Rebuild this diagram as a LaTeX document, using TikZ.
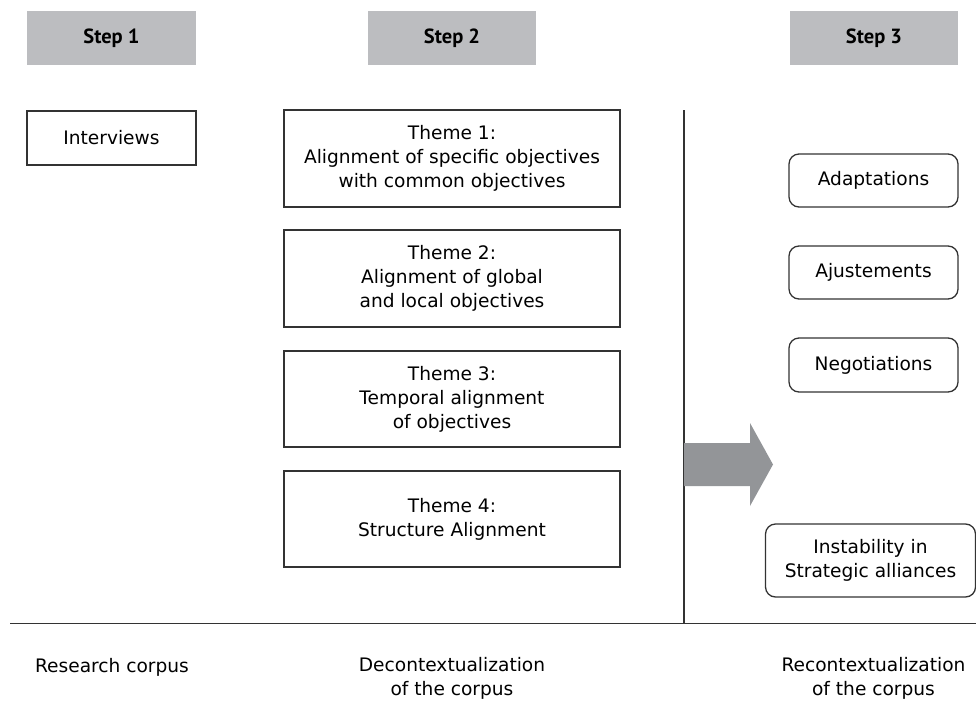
\documentclass[tikz,border=0pt]{standalone}
\usepackage{fontspec}
\setmainfont{DejaVu Sans}
\newfontfamily\headfont{PT Sans}
\definecolor{headgray}{HTML}{BCBDC0}
\definecolor{arrowgray}{HTML}{939598}
\definecolor{linegray}{HTML}{333333}
\begin{document}
\begin{tikzpicture}[x=1pt,y=-1pt,
  every node/.style={font=\fontsize{18.6}{24}\selectfont, align=center, inner sep=0pt},
  stephead/.style={fill=headgray, minimum width=169pt, minimum height=54pt, font=\headfont\fontsize{20.5}{24}\selectfont\bfseries},
  box/.style={draw=linegray, line width=1.3pt, minimum height=97pt, minimum width=336pt},
  rbox/.style={draw=linegray, line width=1.3pt, rounded corners=10pt, minimum width=169pt, minimum height=53pt},
  sep/.style={draw=linegray, line width=1.3pt},
  bigarrow/.style={fill=arrowgray, draw=none}
]
\useasboundingbox (0,0) rectangle (976,701);
% step headers
\node[stephead] (s1) at (111.5,38) {Step 1};
\node[stephead, minimum width=168pt] (s2) at (452,38) {Step 2};
\node[stephead, minimum width=168pt] (s3) at (874,38) {Step 3};
% step 1
\node[box, minimum width=169pt, minimum height=54pt] (int) at (111.5,138) {Interviews};
% step 2 themes
\node[box] (t1) at (452,158.5) {Theme 1:\\Alignment of specific objectives\\with common objectives};
\node[box] (t2) at (452,278.5) {Theme 2:\\Alignment of global\\and local objectives};
\node[box, minimum height=96pt] (t3) at (452,399) {Theme 3:\\Temporal alignment\\of objectives};
\node[box, minimum height=96pt] (t4) at (452,519) {Theme 4:\\Structure Alignment};
% step 3
\node[rbox] (ad) at (873.5,180.5) {Adaptations};
\node[rbox] (aj) at (873.5,272.5) {Ajustements};
\node[rbox, minimum height=54pt] (ne) at (873.5,365) {Negotiations};
\node[rbox, minimum width=210pt, minimum height=73pt] (in) at (870.5,560.5) {Instability in\\Strategic alliances};
% separators
\coordinate (vtop) at (684,110);
\coordinate (vbot) at (684,623);
\coordinate (hl) at (10,623.5);
\coordinate (hr) at (976,623.5);
\draw[sep] (vtop) -- (vbot);
\draw[sep] (hl) -- (hr);
% big arrow
\fill[bigarrow] (684,443) -- (750,443) -- (750,423) -- (773,464.5) -- (750,506) -- (750,486) -- (684,486) -- cycle;
% bottom labels
\node (l1) at (112,667) {Research corpus};
\node (l2) at (452,678) {Decontextualization\\of the corpus};
\node (l3) at (873.5,678) {Recontextualization\\of the corpus};
\end{tikzpicture}
\end{document}
